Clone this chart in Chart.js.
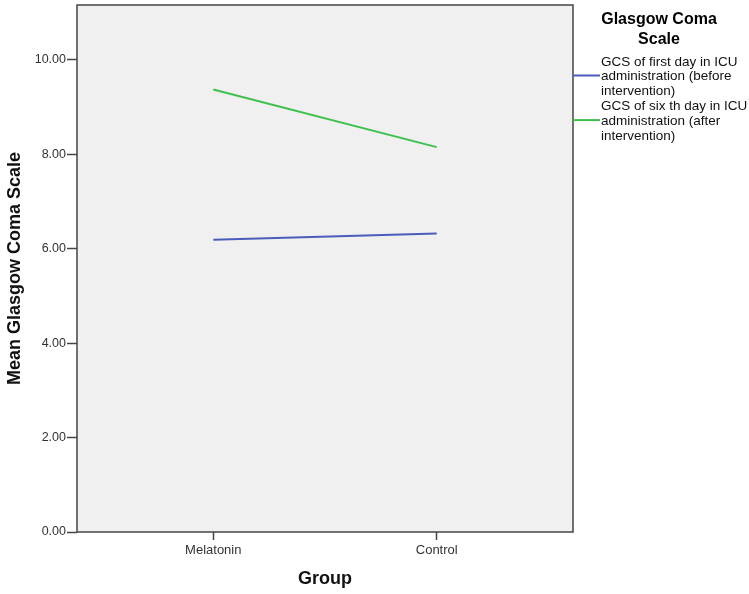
<!DOCTYPE html>
<html>
<head>
<meta charset="utf-8">
<script src="https://cdn.jsdelivr.net/npm/chart.js@4/dist/chart.umd.min.js"></script>
<style>
  html, body { margin: 0; padding: 0; background: #fff; }
  #wrap { width: 749px; height: 594px; }
</style>
</head>
<body>
<div id="wrap"><canvas id="gcs-chart"></canvas></div>
<script>
var groups = ['Melatonin', 'Control'];
var firstDay = [6.19, 6.32];
var sixthDay = [9.37, 8.15];
var seriesNames = [
    'GCS of first day in ICU administration (before intervention)',
    'GCS of six th day in ICU administration (after intervention)'
];
var yTicks = [0, 2, 4, 6, 8, 10];
var legendTitle = ['Glasgow Coma', 'Scale'];

function toPoints(values) {
    return values.map(function(v, i) { return { x: i, y: v }; });
}

function wrapText(ctx, text, maxWidth) {
    var words = text.split(' ');
    var lines = [];
    var line = '';
    for (const w of words) {
        var test = line ? line + ' ' + w : w;
        if (ctx.measureText(test).width > maxWidth && line) {
            lines.push(line);
            line = w;
        } else {
            line = test;
        }
    }
    if (line) lines.push(line);
    return lines;
}

// plot background, frame and the legend on the right
var framePlugin = {
    id: 'frame',
    beforeDatasetsDraw: function(chart) {
        var ctx = chart.ctx, a = chart.chartArea;
        ctx.save();
        ctx.fillStyle = '#f0f0f0';
        ctx.fillRect(a.left, a.top, a.right - a.left, a.bottom - a.top);
        ctx.restore();
    },
    afterDraw: function(chart) {
        var ctx = chart.ctx, a = chart.chartArea;
        ctx.save();
        ctx.strokeStyle = '#444';
        ctx.lineWidth = 1.5;
        ctx.strokeRect(a.left, a.top, a.right - a.left, a.bottom - a.top);

        ctx.fillStyle = '#000';
        ctx.font = 'bold 16px "Liberation Sans", Arial, sans-serif';
        ctx.textAlign = 'center';
        ctx.textBaseline = 'middle';
        ctx.fillText(legendTitle[0], 659, 20);
        ctx.fillText(legendTitle[1], 659, 40);

        ctx.font = '13.5px "Liberation Sans", Arial, sans-serif';
        ctx.textAlign = 'left';
        var y = 62;
        chart.data.datasets.forEach(function(ds) {
            var lines = wrapText(ctx, ds.label, 148);
            ctx.strokeStyle = ds.borderColor;
            ctx.lineWidth = 2;
            ctx.beginPath();
            ctx.moveTo(a.right, y + 13.5);
            ctx.lineTo(a.right + 27, y + 13.5);
            ctx.stroke();
            ctx.fillStyle = '#111';
            lines.forEach(function(l, i) {
                ctx.fillText(l, 601, y + i * 14.7);
            });
            y += lines.length * 14.7 + 0.5;
        });
        ctx.restore();
    }
};

new Chart(document.getElementById('gcs-chart'), {
    type: 'line',
    data: {
        datasets: [{
            label: seriesNames[0],
            data: toPoints(firstDay),
            borderColor: '#4a5cbc',
            borderWidth: 2,
            pointRadius: 0,
            fill: false
        }, {
            label: seriesNames[1],
            data: toPoints(sixthDay),
            borderColor: '#3ec04c',
            borderWidth: 2,
            pointRadius: 0,
            fill: false
        }]
    },
    options: {
        responsive: true,
        maintainAspectRatio: false,
        animation: false,
        layout: { padding: { top: 5, right: 176, left: 0, bottom: 0 } },
        plugins: {
            legend: { display: false },
            tooltip: { enabled: false }
        },
        scales: {
            x: {
                type: 'linear',
                min: -0.61,
                max: 1.61,
                afterFit: function(s) { s.height = 62; },
                afterBuildTicks: function(s) {
                    s.ticks = groups.map(function(g, i) { return { value: i }; });
                },
                border: { display: false },
                grid: {
                    drawOnChartArea: false,
                    tickLength: 8,
                    tickColor: '#444',
                    tickWidth: 1.5
                },
                ticks: {
                    color: '#333',
                    font: { family: '"Liberation Sans", Arial, sans-serif', size: 13 },
                    padding: 3,
                    maxRotation: 0,
                    callback: function(value) { return groups[value]; }
                },
                title: {
                    display: true,
                    text: 'Group',
                    color: '#111',
                    font: { family: '"Liberation Sans", Arial, sans-serif', size: 18, weight: 'bold' },
                    padding: { top: 6, bottom: 4 }
                }
            },
            y: {
                min: 0,
                max: 11.16,
                afterFit: function(s) {
                    s.width = 77;
                    s.paddingTop = 0;
                },
                afterBuildTicks: function(s) {
                    s.ticks = yTicks.map(function(v) { return { value: v }; });
                },
                border: { display: false },
                grid: {
                    drawOnChartArea: false,
                    tickLength: 10,
                    tickColor: '#444',
                    tickWidth: 1.5
                },
                ticks: {
                    color: '#333',
                    font: { family: '"Liberation Sans", Arial, sans-serif', size: 12.5 },
                    padding: 1,
                    callback: function(value) { return value.toFixed(2); }
                },
                title: {
                    display: true,
                    text: 'Mean Glasgow Coma Scale',
                    color: '#111',
                    font: { family: '"Liberation Sans", Arial, sans-serif', size: 18, weight: 'bold' },
                    padding: { top: 4, bottom: 4 }
                }
            }
        }
    },
    plugins: [framePlugin]
});
</script>
</body>
</html>
